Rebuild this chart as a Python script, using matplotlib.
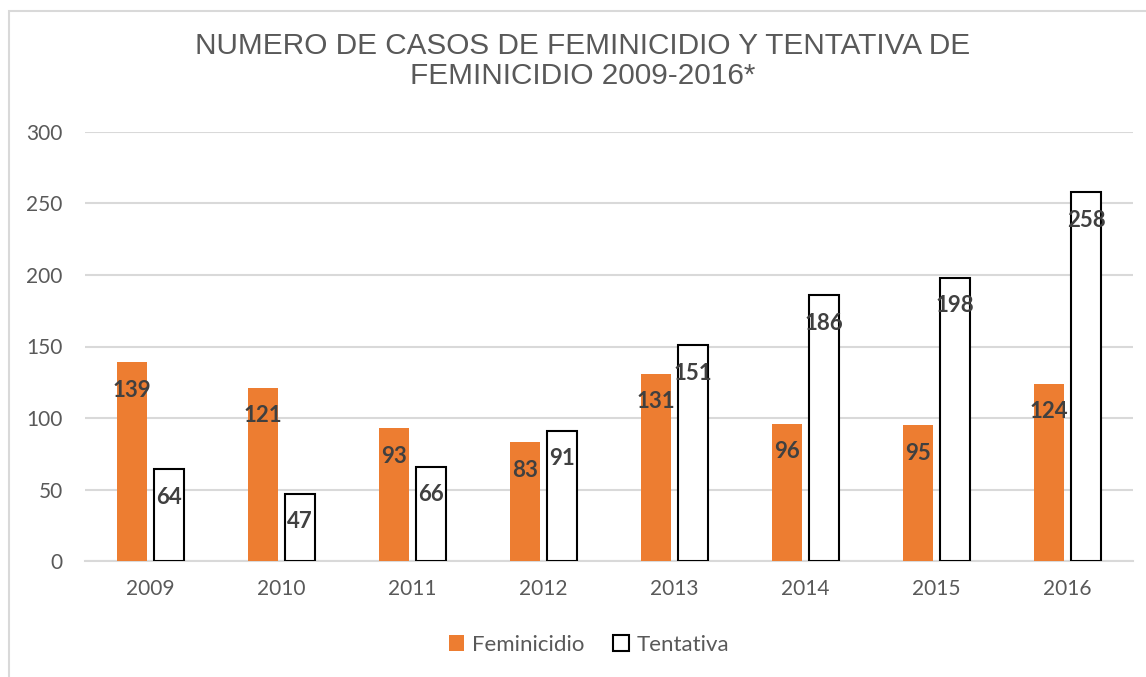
import matplotlib
matplotlib.use("Agg")
import matplotlib.pyplot as plt
import numpy as np
from matplotlib.patches import Rectangle, Patch

years = ["2009", "2010", "2011", "2012", "2013", "2014", "2015", "2016"]
feminicidio = [139, 121, 93, 83, 131, 96, 95, 124]
tentativa = [64, 47, 66, 91, 151, 186, 198, 258]
yticks = [0, 50, 100, 150, 200, 250, 300]
title = "NUMERO DE CASOS DE FEMINICIDIO Y TENTATIVA DE\nFEMINICIDIO 2009-2016*"

W, H = 1146, 677
fig = plt.figure(figsize=(W / 100, H / 100), dpi=100)
ax = fig.add_axes([85 / W, 1 - 561 / H, 1048 / W, (561 - 132) / H])

orange = "#ED7D31"
grey_txt = "#595959"
x = np.arange(len(years))
bw = 0.23
off = 0.142
b1 = ax.bar(x - off, feminicidio, bw, color=orange, edgecolor="none", zorder=3)
b2 = ax.bar(x + off, tentativa, bw, facecolor="white", edgecolor="black", linewidth=1.5, zorder=3)

for bars, vals in ((b1, feminicidio), (b2, tentativa)):
    for r, v in zip(bars, vals):
        ax.annotate(str(v), (r.get_x() + r.get_width() / 2, v), xytext=(0, -28),
                    textcoords="offset pixels",
                    ha="center", va="center", fontsize=16, fontweight="bold",
                    color="#404040", family="Lato", zorder=5)

ax.set_xlim(-0.5, len(years) - 0.5)
ax.set_ylim(0, 300)
ax.set_yticks(yticks)
ax.set_xticks(x)
ax.set_xticklabels(years)
ax.yaxis.grid(True, color="#D9D9D9", linewidth=1.5, zorder=0)
ax.set_axisbelow(True)
for s in ["top", "right", "left"]:
    ax.spines[s].set_visible(False)
ax.spines["bottom"].set_color("#D9D9D9")
ax.spines["bottom"].set_linewidth(1.5)
ax.tick_params(axis="both", length=0, labelsize=15, labelcolor=grey_txt)
ax.tick_params(axis="y", pad=16)
ax.tick_params(axis="x", pad=13)
for lab in ax.get_xticklabels() + ax.get_yticklabels():
    lab.set_family("Lato")

fig.text(583 / W, 1 - 61 / H, title, ha="center", va="center", fontsize=21.4,
         color=grey_txt, family="Liberation Sans", linespacing=1.12)

handles = [Patch(facecolor=orange, edgecolor="none", label="Feminicidio"),
           Patch(facecolor="white", edgecolor="black", linewidth=1.5, label="Tentativa")]
fig.legend(handles=handles, loc="center", bbox_to_anchor=(589 / W, 1 - 645 / H), ncol=2,
           frameon=False, prop={"family": "Lato", "size": 16}, labelcolor=grey_txt,
           handlelength=0.7, handleheight=0.7, handletextpad=0.35, columnspacing=1.3)

fig.add_artist(Rectangle((9 / W, -0.1), 1.2, 1 - 11 / H + 0.1, transform=fig.transFigure,
                         fill=False, edgecolor="#D9D9D9", linewidth=1.5))

fig.savefig("out.png", dpi=100)
